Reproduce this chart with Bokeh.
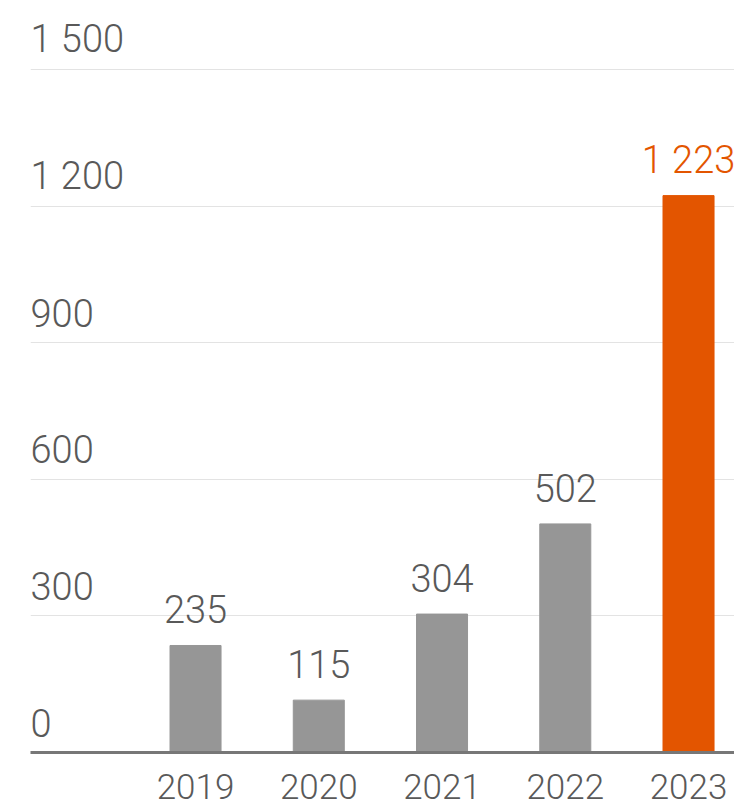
from bokeh.plotting import figure
from bokeh.models import ColumnDataSource, FixedTicker, Range1d
from bokeh.core.properties import value
from bokeh.embed import file_html
from bokeh.resources import INLINE

years = ["2019", "2020", "2021", "2022", "2023"]
values = [235, 115, 304, 502, 1223]
value_labels = ["235", "115", "304", "502", "1 223"]
bar_colors = ["#969696", "#969696", "#969696", "#969696", "#e35500"]
label_colors = ["#595959", "#595959", "#595959", "#595959", "#e35500"]
y_ticks = [0, 300, 600, 900, 1200, 1500]
y_tick_labels = ["0", "300", "600", "900", "1 200", "1 500"]

FONT = "Roboto Light, Roboto, sans-serif"

xs = list(range(len(years)))
x_start = -1.339
x_end = 4.373

p = figure(width=734, height=807, output_backend="svg", toolbar_location=None,
           x_range=Range1d(x_start, x_end), y_range=Range1d(0, 1651.5),
           min_border_left=30, min_border_right=0, min_border_top=0, min_border_bottom=55)
p.outline_line_color = None
p.background_fill_color = "white"
p.border_fill_color = "white"

p.yaxis.visible = False
p.xgrid.visible = False
p.ygrid.ticker = FixedTicker(ticks=y_ticks[1:])
p.ygrid.grid_line_color = "#e3e3e3"
p.ygrid.grid_line_width = 1

src = ColumnDataSource(dict(x=xs, top=values, color=bar_colors, lab=value_labels, lc=label_colors))
p.vbar(x="x", top="top", bottom=0, width=0.414, color="color", source=src)
p.text(x="x", y="top", text="lab", text_color="lc", source=src, text_align="center",
       text_baseline="alphabetic", y_offset=-36, text_font=value(FONT), text_font_size="38px")

ysrc = ColumnDataSource(dict(x=[x_start] * len(y_ticks), y=y_ticks, t=y_tick_labels))
p.text(x="x", y="y", text="t", source=ysrc, text_align="left", text_baseline="alphabetic",
       y_offset=-30, text_color="#595959", text_font=value(FONT), text_font_size="38px")

p.xaxis.ticker = FixedTicker(ticks=xs)
p.xaxis.major_label_overrides = {i: y for i, y in enumerate(years)}
p.xaxis.major_tick_line_color = None
p.xaxis.minor_tick_line_color = None
p.xaxis.axis_line_color = "#777777"
p.xaxis.axis_line_width = 3
p.xaxis.major_label_text_font = FONT
p.xaxis.major_label_text_font_size = "35px"
p.xaxis.major_label_text_color = "#595959"
p.xaxis.major_label_standoff = 15

open("out.html", "w").write(file_html(p, INLINE))
